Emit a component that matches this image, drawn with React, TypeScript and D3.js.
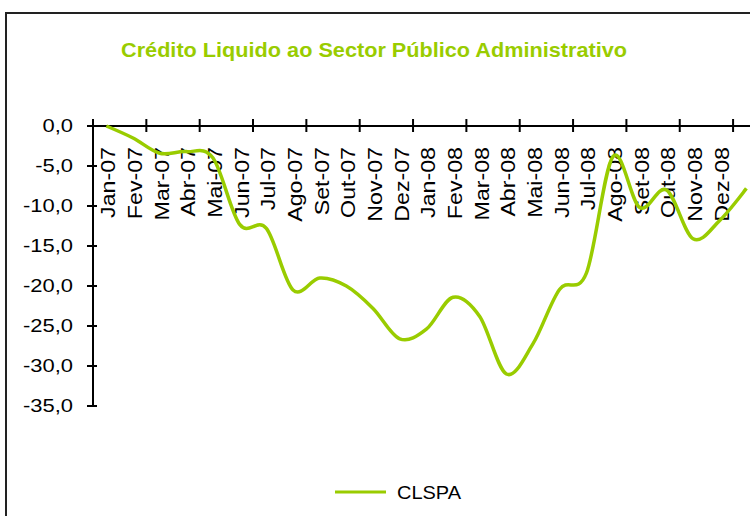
import React from "react";
import * as d3 from "d3";

const categories = [
  "Jan-07", "Fev-07", "Mar-07", "Abr-07", "Mai-07", "Jun-07", "Jul-07", "Ago-07",
  "Set-07", "Out-07", "Nov-07", "Dez-07", "Jan-08", "Fev-08", "Mar-08", "Abr-08",
  "Mai-08", "Jun-08", "Jul-08", "Ago-08", "Set-08", "Out-08", "Nov-08", "Dez-08", "",
];
const clspa = [
  0.0, -1.5, -3.4, -3.2, -4.0, -12.3, -12.8, -20.5,
  -19.0, -20.0, -22.8, -26.6, -25.4, -21.4, -23.8, -31.0,
  -27.2, -20.4, -18.4, -3.8, -10.2, -8.0, -14.1, -11.8, -7.8,
];
const yTicks = [0, -5, -10, -15, -20, -25, -30, -35];
const title = "Crédito Liquido ao Sector Público Administrativo";
const seriesName = "CLSPA";

const W = 750;
const H = 516;
const GREEN = "#99CC00";
const FONT = "'Liberation Sans', Arial, sans-serif";

export default function App() {
  const left = 93;
  const step = 26.67;
  const x = d3
    .scaleBand<string>()
    .domain(categories.map((c, i) => String(i)))
    .range([left, left + step * categories.length])
    .paddingInner(0)
    .paddingOuter(0);
  const y = d3.scaleLinear().domain([0, -35]).range([126, 406]);
  const cx = (i: number) => (x(String(i)) as number) + x.bandwidth() / 2;

  const line = d3
    .line<number>()
    .x((_, i) => cx(i))
    .y((d) => y(d))
    .curve(d3.curveCardinal.tension(0));

  const tickIdx = d3.range(0, categories.length + 1, 2);
  const y0 = y(0);

  return (
    <svg
      width={W}
      height={H}
      style={{ position: "absolute", left: 0, top: 0, background: "#fff" }}
      fontFamily={FONT}
    >
      <rect x={0} y={0} width={W} height={H} fill="#fff" />
      {/* frame */}
      <path d={`M6,${H + 5} V13 H${W + 10}`} fill="none" stroke="#222" strokeWidth={2} />

      {/* title */}
      <text
        x={374}
        y={57}
        textAnchor="middle"
        fontWeight="bold"
        fontSize={21}
        fill={GREEN}
        textLength={506}
        lengthAdjust="spacingAndGlyphs"
      >
        {title}
      </text>

      {/* y axis */}
      <line x1={left} x2={left} y1={y(0)} y2={y(-35)} stroke="#000" strokeWidth={2} />
      {yTicks.map((t) => (
        <g key={t}>
          <line x1={left - 6} x2={left + 4} y1={y(t)} y2={y(t)} stroke="#000" strokeWidth={2} />
          <text
            transform={`translate(73,${y(t)}) scale(1.22,1)`}
            dy="0.36em"
            textAnchor="end"
            fontSize={18}
            fill="#000"
          >
            {d3.format(".1f")(t).replace(".", ",").replace("−", "-")}
          </text>
        </g>
      ))}

      {/* x axis at zero */}
      <line x1={left} x2={W + 10} y1={y0} y2={y0} stroke="#000" strokeWidth={2} />
      {tickIdx.map((i) => {
        const xx = left + i * x.bandwidth();
        return <line key={i} x1={xx} x2={xx} y1={y0 - 7} y2={y0 + 6} stroke="#000" strokeWidth={2} />;
      })}
      {categories.map((c, i) => (
        <text
          key={i}
          transform={`translate(${cx(i) + 9},${147}) rotate(-90) scale(1.16,1)`}
          textAnchor="end"
          fontSize={20}
          fill="#000"
        >
          {c}
        </text>
      ))}

      {/* series */}
      <path d={line(clspa) || ""} fill="none" stroke={GREEN} strokeWidth={3.5} strokeLinejoin="round" />

      {/* legend */}
      <line x1={335} x2={386} y1={492} y2={492} stroke={GREEN} strokeWidth={3} />
      <text transform="translate(397,499) scale(1.08,1)" fontSize={18.5} fill="#000">
        {seriesName}
      </text>
    </svg>
  );
}
